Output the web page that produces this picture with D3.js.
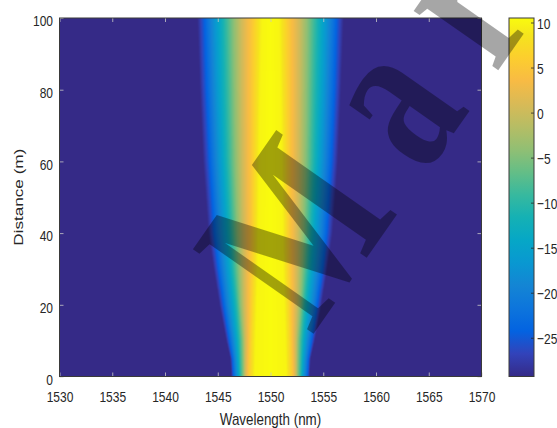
<!DOCTYPE html>
<html>
<head>
<meta charset="utf-8">
<script src="https://cdn.jsdelivr.net/npm/d3@7/dist/d3.min.js"></script>
<style>
  body { margin: 0; background: #fff; }
  svg { display: block; }
  .lbl { font-family: "Liberation Sans", Arial, sans-serif; fill: #262626; }
</style>
</head>
<body>
<svg id="chart-svg"></svg>
<script>
// distance rows (m)
const distances = [0, 5, 10, 20, 30, 40, 60, 80, 100];
// power levels (dB) used as contour levels
const levels = [10.5, 10, 8, 5, 0, -5, -10, -15, -20, -25, -29.3];
// half width from the centre wavelength (nm) at which each level is reached, one row per distance
const halfWidths = [
  [0, 1.50, 1.75, 2.10, 2.40, 2.60, 2.85, 3.05, 3.30, 3.55, 3.70],
  [0, 1.45, 1.72, 2.05, 2.40, 2.62, 2.90, 3.12, 3.40, 3.65, 3.80],
  [0, 1.40, 1.70, 2.00, 2.40, 2.65, 2.95, 3.25, 3.60, 3.95, 4.20],
  [0, 1.30, 1.60, 1.95, 2.50, 2.90, 3.20, 3.60, 4.10, 4.50, 4.85],
  [0, 1.20, 1.50, 1.90, 2.55, 3.05, 3.50, 3.95, 4.50, 5.00, 5.40],
  [0, 1.15, 1.45, 1.85, 2.60, 3.20, 3.70, 4.20, 4.85, 5.40, 5.90],
  [0, 1.05, 1.40, 1.85, 2.70, 3.40, 4.00, 4.60, 5.25, 5.85, 6.40],
  [0, 0.95, 1.30, 1.85, 2.75, 3.50, 4.15, 4.85, 5.50, 6.15, 6.70],
  [0, 0.80, 1.20, 1.80, 2.80, 3.60, 4.30, 5.00, 5.70, 6.35, 6.95]
];
const centreWl = 1550;
const xTicks = [1530, 1535, 1540, 1545, 1550, 1555, 1560, 1565, 1570];
const yTicks = [0, 20, 40, 60, 80, 100];
const cbTicks = [-25, -20, -15, -10, -5, 0, 5, 10];
const cRange = [-29.3, 10.5];
const watermark = "Mar";

// parula colormap anchors (index out of 63)
const parulaIdx = [0, 4, 8, 12, 16, 20, 24, 28, 32, 36, 40, 44, 48, 52, 56, 60, 63];
const parulaCol = ["#352a87", "#3243ba", "#0363e1", "#0d75dc", "#1485d4", "#0998d1", "#06a7c6", "#15b1b4",
                   "#38b99e", "#65be86", "#92bf73", "#b7bd64", "#d9ba56", "#f8bb44", "#fcce2e", "#f5e41d", "#f9fb0e"];
const parula = d3.scaleLinear().domain(parulaIdx.map(i => i / 63)).range(parulaCol).interpolate(d3.interpolateRgb);

const W = 557, H = 428, sy = 1.28;
const m = { left: 59.5, top: 18, right: 481.5, bottom: 376.5 };
const cb = { left: 509, right: 534 };

const svg = d3.select("#chart-svg").attr("width", W).attr("height", H);

const x = d3.scaleLinear().domain([1530, 1570]).range([m.left, m.right]);
const y = d3.scaleLinear().domain([0, 100]).range([m.bottom, m.top]);
const c = d3.scaleLinear().domain(cRange).range([m.bottom, m.top]);

// heat map drawn into a canvas, then placed as an image
const pw = Math.round(m.right - m.left), ph = Math.round(m.bottom - m.top);
const canvas = document.createElement("canvas");
canvas.width = pw; canvas.height = ph;
const ctx = canvas.getContext("2d");
const img = ctx.createImageData(pw, ph);
const hwScales = levels.map((lv, k) => d3.scaleLinear().domain(distances).range(halfWidths.map(r => r[k])).clamp(true));
const lut = d3.range(256).map(i => d3.rgb(parula(i / 255)));
const toIdx = d3.scaleLinear().domain(cRange).range([0, 255]).clamp(true);
const xPix = d3.scaleLinear().domain([0, pw]).range(x.domain());
const yPix = d3.scaleLinear().domain([0, ph]).range([100, 0]);
for (let j = 0; j < ph; j++) {
  const d = yPix(j + 0.5);
  const v = d3.scaleLinear().domain(hwScales.map(s => s(d))).range(levels).clamp(true);
  for (let i = 0; i < pw; i++) {
    const col = lut[Math.round(toIdx(v(Math.abs(xPix(i + 0.5) - centreWl))))];
    const p = (j * pw + i) * 4;
    img.data[p] = col.r; img.data[p + 1] = col.g; img.data[p + 2] = col.b; img.data[p + 3] = 255;
  }
}
ctx.putImageData(img, 0, 0);
svg.append("image")
   .attr("href", canvas.toDataURL())
   .attr("x", m.left).attr("y", m.top)
   .attr("width", m.right - m.left).attr("height", m.bottom - m.top)
   .attr("preserveAspectRatio", "none");

// axes (ticks inward, mirrored on top and right)
function styleTicks(g) {
  g.select(".domain").remove();
  g.selectAll(".tick line").attr("stroke", "#c8c8c8").attr("stroke-width", 0.8);
}
svg.append("g").attr("transform", "translate(0," + m.bottom + ")")
   .call(d3.axisBottom(x).tickValues(xTicks).tickSize(-4).tickFormat(d3.format("d")))
   .call(styleTicks)
   .call(g => g.selectAll(".tick text").attr("class", "lbl").attr("y", 0).attr("dy", null)
               .attr("transform", "translate(0,25.2) scale(1," + sy + ")")
               .attr("font-size", 12));
svg.append("g").attr("transform", "translate(0," + m.top + ")")
   .call(d3.axisTop(x).tickValues(xTicks).tickSize(-4).tickFormat(""))
   .call(styleTicks);
svg.append("g").attr("transform", "translate(" + m.left + ",0)")
   .call(d3.axisLeft(y).tickValues(yTicks).tickSize(-4))
   .call(styleTicks)
   .call(g => g.selectAll(".tick text").attr("class", "lbl").attr("x", 0).attr("dy", null)
               .attr("transform", "translate(-6.5,7.6) scale(1," + sy + ")")
               .attr("font-size", 12));
svg.append("g").attr("transform", "translate(" + m.right + ",0)")
   .call(d3.axisRight(y).tickValues(yTicks).tickSize(-4).tickFormat(""))
   .call(styleTicks);

svg.append("rect")
   .attr("x", m.left).attr("y", m.top)
   .attr("width", m.right - m.left).attr("height", m.bottom - m.top)
   .attr("fill", "none").attr("stroke", "#3a3a3a").attr("stroke-width", 1);

// axis labels
svg.append("text").attr("class", "lbl")
   .attr("transform", "translate(" + x(1550) + ",425) scale(1," + sy + ")")
   .attr("text-anchor", "middle").attr("font-size", 13.4)
   .text("Wavelength (nm)");
svg.append("text").attr("class", "lbl")
   .attr("transform", "translate(22.5," + y(50) + ") rotate(-90) scale(" + sy + ",1)")
   .attr("text-anchor", "middle").attr("font-size", 13.4)
   .text("Distance (m)");

// colour bar
const grad = svg.append("defs").append("linearGradient")
   .attr("id", "cbGrad").attr("x1", 0).attr("y1", 1).attr("x2", 0).attr("y2", 0);
grad.selectAll("stop").data(parulaIdx).enter().append("stop")
   .attr("offset", d => d / 63).attr("stop-color", (d, i) => parulaCol[i]);
svg.append("rect")
   .attr("x", cb.left).attr("y", m.top)
   .attr("width", cb.right - cb.left).attr("height", m.bottom - m.top)
   .attr("fill", "url(#cbGrad)");
svg.append("g").attr("transform", "translate(" + cb.right + ",0)")
   .call(d3.axisRight(c).tickValues(cbTicks).tickSize(-3))
   .call(g => g.select(".domain").remove())
   .call(g => g.selectAll(".tick line").attr("stroke", "#262626").attr("stroke-width", 0.8))
   .call(g => g.selectAll(".tick text").attr("class", "lbl").attr("x", 0).attr("dy", null)
               .attr("transform", "translate(3,5.5) scale(1," + sy + ")")
               .attr("font-size", 12));
svg.append("rect")
   .attr("x", cb.left).attr("y", m.top)
   .attr("width", cb.right - cb.left).attr("height", m.bottom - m.top)
   .attr("fill", "none").attr("stroke", "#3a3a3a").attr("stroke-width", 1);

// watermark
svg.append("text")
   .attr("transform", "translate(312,336) rotate(-55) scale(0.72,1)")
   .style("font-family", "'Liberation Serif', 'DejaVu Serif', serif")
   .style("font-weight", "bold")
   .style("font-size", "225px")
   .style("letter-spacing", "60px")
   .style("fill", "#000")
   .style("fill-opacity", 0.35)
   .text(watermark);
</script>
</body>
</html>
